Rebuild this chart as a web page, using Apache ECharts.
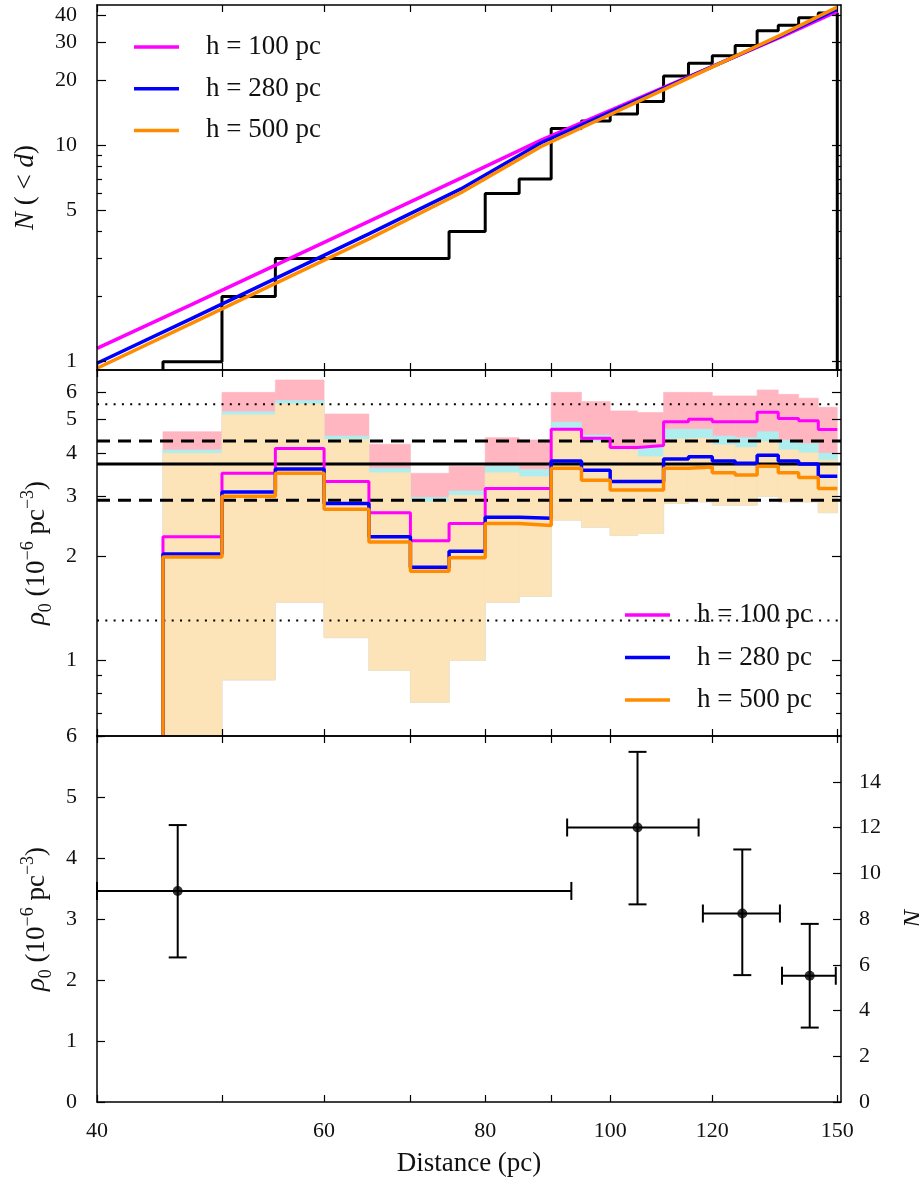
<!DOCTYPE html>
<html><head><meta charset="utf-8">
<script src="https://cdn.jsdelivr.net/npm/echarts@6/dist/echarts.min.js"></script>
<style>html,body{margin:0;padding:0;background:#fff}#c{width:919px;height:1183px}</style>
</head><body><div id="c"></div>
<script>
const FONT = 'Liberation Serif';

// ---------- shared x axis (distance, pc) ----------
const xMin = 40, xMax = 151;
const xTickValues = [40, 50, 60, 70, 80, 90, 100, 120, 150];
const xLabelValues = [40, 60, 80, 100, 120, 150];

// ---------- top panel: cumulative counts N(<d) ----------
const topYMin = 0.915, topYMax = 44.7;
const topMajorTicks = [1, 5, 10, 20, 30, 40];
const topMinorTicks = [2, 3, 4, 6, 7, 8, 9];
const binEdges = [45, 50, 55, 60, 65, 70, 75, 80, 85, 90, 95, 100, 105, 110, 115, 120, 125, 130, 135, 140, 145, 150];
const cumCounts = [1, 2, 3, 3, 3, 3, 4, 6, 7, 12, 13, 14, 16, 21, 24, 26, 29, 34, 36, 39, 41];
const modelDist = [40, 47.3, 65, 76.6, 88.4, 109.6, 135.7, 150];
const modelH100 = [1.153, 1.83, 4.46, 7.07, 10.6, 18.4, 31.8, 41.7];
const modelH280 = [0.983, 1.577, 3.90, 6.3, 10.3, 18.2, 32.2, 42.8];
const modelH500 = [0.932, 1.50, 3.70, 6.05, 9.9, 17.96, 32.5, 43.7];

// ---------- middle panel: rho0 per distance bin ----------
const midYMin = 0.6, midYMax = 6.97;
const midMajorTicks = [1, 2, 3, 4, 5, 6];
const midMinorTicks = [0.6, 0.7, 0.8, 0.9];
const rhoH100 = [2.28, 3.49, 4.12, 3.30, 2.68, 2.22, 2.49, 3.15, 3.15, 4.69, 4.41, 4.15, 4.20, 4.93, 5.01, 4.93, 4.93, 5.25, 5.04, 4.96, 4.68];
const rhoH280 = [2.03, 3.08, 3.59, 2.85, 2.28, 1.86, 2.07, 2.60, 2.58, 3.79, 3.56, 3.30, 3.30, 3.84, 3.90, 3.79, 3.73, 3.94, 3.79, 3.71, 3.42];
const rhoH500 = [1.99, 2.99, 3.49, 2.74, 2.20, 1.81, 1.98, 2.49, 2.46, 3.61, 3.33, 3.12, 3.12, 3.61, 3.64, 3.50, 3.45, 3.66, 3.50, 3.39, 3.15];
const bandH100Upper = [4.61, 6.00, 6.52, 5.19, 4.24, 3.49, 3.66, 4.43, 4.36, 6.00, 5.64, 5.30, 5.24, 6.00, 6.00, 5.86, 5.86, 6.10, 5.92, 5.77, 5.43];
const bandH280Upper = [4.08, 5.27, 5.68, 4.48, 3.61, 2.97, 3.10, 3.66, 3.58, 4.91, 4.51, 4.17, 4.15, 4.69, 4.69, 4.48, 4.43, 4.61, 4.36, 4.26, 3.99];
const bandH500Upper = [3.99, 5.16, 5.55, 4.38, 3.50, 2.88, 3.01, 3.50, 3.41, 4.72, 4.31, 4.10, 3.90, 4.39, 4.41, 4.22, 4.15, 4.31, 4.08, 4.00, 3.81];
const bandLower = [0.6, 0.874, 1.47, 1.16, 0.931, 0.752, 0.995, 1.47, 1.53, 2.55, 2.43, 2.30, 2.33, 2.85, 2.88, 2.82, 2.82, 2.99, 2.88, 2.88, 2.68];
const refLevels = [5.54, 4.33, 3.71, 2.91, 1.30];
const refKinds = ['dotted', 'dashed', 'solid', 'dashed', 'dotted'];

// ---------- bottom panel: rho0 in wide bins ----------
const wideDist = [46.2, 105.0, 126.6, 142.8];
const wideDistLow = [40, 92.6, 118.0, 135.9];
const wideDistHigh = [93.3, 117.1, 135.4, 149.6];
const wideRho = [3.46, 4.50, 3.09, 2.07];
const wideRhoLow = [2.37, 3.24, 2.08, 1.22];
const wideRhoHigh = [4.54, 5.74, 4.14, 2.92];
const rhoAxisMax = 6, nAxisMax = 16;
const nLabelValues = [0, 2, 4, 6, 8, 10, 12, 14];

const names = ['h = 100 pc', 'h = 280 pc', 'h = 500 pc'];
const colors = ['#ff00ff', '#0000ff', '#ff8c00'];
const bandColors = ['#ffb6c1', '#afeeee', '#fde3b8'];

const BLACK = '#000';
const labelStyle = {fontFamily: FONT, fontSize: 22, color: '#111'};
const nameStyle = {
  fontFamily: FONT, fontSize: 27, color: '#111', lineHeight: 36,
  rich: {
    i: {fontFamily: FONT, fontSize: 27, fontStyle: 'italic', lineHeight: 36, color: '#111'},
    sup: {fontFamily: FONT, fontSize: 18, verticalAlign: 'top', lineHeight: 16, color: '#111'},
    sub: {fontFamily: FONT, fontSize: 18, verticalAlign: 'bottom', lineHeight: 16, color: '#111'}
  }
};

const grids = [
  {left: 97, width: 744, top: 5, height: 365, outerBoundsMode: 'none'},
  {left: 97, width: 744, top: 370, height: 366, outerBoundsMode: 'none'},
  {left: 97, width: 744, top: 736, height: 366, outerBoundsMode: 'none'}
];

function xAx(g, pos, withLabels) {
  const a = {
    type: 'log', logBase: 10, gridIndex: g, position: pos, min: xMin, max: xMax, z: 10,
    axisLine: {show: true, onZero: false, lineStyle: {color: BLACK, width: 1.5}},
    axisTick: {show: true, inside: true, length: 7, customValues: xTickValues, lineStyle: {color: BLACK, width: 1.2}},
    axisLabel: Object.assign({show: withLabels, customValues: xLabelValues, margin: 18}, labelStyle),
    splitLine: {show: false}
  };
  if (withLabels) {
    a.name = 'Distance (pc)';
    a.nameLocation = 'middle';
    a.nameGap = 48;
    a.nameTextStyle = {fontFamily: FONT, fontSize: 27, color: '#111'};
  }
  return a;
}

function yAx(o) {
  return Object.assign({
    z: 10, splitLine: {show: false},
    axisLine: {show: false},
    axisLabel: {show: false},
    axisTick: {show: false}
  }, o);
}
function tick(len, vals) {
  return {show: true, inside: true, length: len, customValues: vals, lineStyle: {color: BLACK, width: 1.2}};
}
const frame = {show: true, onZero: false, lineStyle: {color: BLACK, width: 1.5}};

const xAxes = [
  xAx(0, 'bottom', false), xAx(0, 'top', false),
  xAx(1, 'bottom', false), xAx(1, 'top', false),
  xAx(2, 'bottom', true), xAx(2, 'top', false)
];

const yAxes = [
  // top grid
  yAx({type: 'log', gridIndex: 0, position: 'left', min: topYMin, max: topYMax, axisLine: frame,
       axisTick: tick(9, topMajorTicks),
       axisLabel: Object.assign({show: true, customValues: topMajorTicks, margin: 20}, labelStyle),
       name: '{i|N} ( < {i|d})', nameLocation: 'middle', nameRotate: 90, nameGap: 53, nameTextStyle: nameStyle}),
  yAx({type: 'log', gridIndex: 0, position: 'left', min: topYMin, max: topYMax, axisTick: tick(5, topMinorTicks)}),
  yAx({type: 'log', gridIndex: 0, position: 'right', min: topYMin, max: topYMax, axisLine: frame, axisTick: tick(9, topMajorTicks)}),
  yAx({type: 'log', gridIndex: 0, position: 'right', min: topYMin, max: topYMax, axisTick: tick(5, topMinorTicks)}),
  // middle grid
  yAx({type: 'log', gridIndex: 1, position: 'left', min: midYMin, max: midYMax, axisLine: frame,
       axisTick: tick(9, midMajorTicks),
       axisLabel: Object.assign({show: true, customValues: midMajorTicks, margin: 20}, labelStyle),
       name: '{i|ρ}{sub|0} (10{sup|−6} pc{sup|−3})', nameLocation: 'middle', nameRotate: 90, nameGap: 42, nameTextStyle: nameStyle}),
  yAx({type: 'log', gridIndex: 1, position: 'left', min: midYMin, max: midYMax, axisTick: tick(5, midMinorTicks)}),
  yAx({type: 'log', gridIndex: 1, position: 'right', min: midYMin, max: midYMax, axisLine: frame, axisTick: tick(9, midMajorTicks)}),
  yAx({type: 'log', gridIndex: 1, position: 'right', min: midYMin, max: midYMax, axisTick: tick(5, midMinorTicks)}),
  // bottom grid
  yAx({type: 'value', gridIndex: 2, position: 'left', min: 0, max: rhoAxisMax, interval: 1, axisLine: frame,
       axisTick: {show: true, inside: true, length: 8, lineStyle: {color: BLACK, width: 1.2}},
       axisLabel: Object.assign({show: true, margin: 20}, labelStyle),
       name: '{i|ρ}{sub|0} (10{sup|−6} pc{sup|−3})', nameLocation: 'middle', nameRotate: 90, nameGap: 42, nameTextStyle: nameStyle}),
  yAx({type: 'value', gridIndex: 2, position: 'right', min: 0, max: nAxisMax, axisLine: frame,
       axisTick: tick(8, nLabelValues),
       axisLabel: Object.assign({show: true, customValues: nLabelValues, margin: 18}, labelStyle),
       name: '{i|N}', nameLocation: 'middle', nameRotate: 90, nameGap: 56, nameTextStyle: nameStyle})
];

// ---------- series ----------
function stepData(edges, vals, base, closeEnd) {
  const d = [[edges[0], base]];
  for (let i = 0; i < vals.length; i++) d.push([edges[i], vals[i]]);
  d.push([edges[edges.length - 1], vals[vals.length - 1]]);
  if (closeEnd) d.push([edges[edges.length - 1], base]);
  return d;
}
function rectRender(color) {
  return function (params, api) {
    const p0 = api.coord([api.value(0), api.value(3)]);
    const p1 = api.coord([api.value(1), api.value(2)]);
    return {type: 'rect', shape: {x: p0[0], y: p0[1], width: p1[0] - p0[0], height: p1[1] - p0[1]},
            style: {fill: color, stroke: color, lineWidth: 0.6}};
  };
}
function bandSeries(upper, color) {
  return {
    type: 'custom', xAxisIndex: 2, yAxisIndex: 4, silent: true, clip: true, z: 1,
    renderItem: rectRender(color),
    encode: {x: [0, 1], y: [2, 3]},
    data: upper.map((u, i) => [binEdges[i], binEdges[i + 1], bandLower[i], u])
  };
}

const series = [];
// top panel
series.push({type: 'line', xAxisIndex: 0, yAxisIndex: 0, step: 'end', symbol: 'none', silent: true, z: 2,
  lineStyle: {color: BLACK, width: 3}, data: stepData(binEdges, cumCounts, topYMin, true)});
[modelH100, modelH280, modelH500].forEach((vals, k) => {
  series.push({type: 'line', name: names[k], xAxisIndex: 0, yAxisIndex: 0, symbol: 'none', silent: true, z: 3 + k,
    itemStyle: {color: colors[k]}, lineStyle: {color: colors[k], width: 3.5},
    data: modelDist.map((d, i) => [d, vals[i]])});
});
// middle panel bands
series.push(bandSeries(bandH100Upper, bandColors[0]));
series.push(bandSeries(bandH280Upper, bandColors[1]));
series.push(bandSeries(bandH500Upper, bandColors[2]));
// reference levels
refLevels.forEach((v, i) => {
  const kind = refKinds[i];
  const ls = kind === 'dotted' ? {type: [2, 6.3], width: 2} : kind === 'dashed' ? {type: [13, 8], width: 3} : {type: 'solid', width: 3};
  series.push({type: 'line', xAxisIndex: 2, yAxisIndex: 4, symbol: 'none', silent: true, z: 2,
    lineStyle: Object.assign({color: BLACK}, ls), data: [[xMin, v], [xMax, v]]});
});
// middle step lines
[rhoH100, rhoH280, rhoH500].forEach((vals, k) => {
  series.push({type: 'line', name: names[k], xAxisIndex: 2, yAxisIndex: 4, step: 'end', symbol: 'none', silent: true, z: 3 + k,
    itemStyle: {color: colors[k]}, lineStyle: {color: colors[k], width: k === 0 ? 3 : 3.5},
    data: stepData(binEdges, vals, midYMin, false)});
});
// bottom panel error bars
series.push({
  type: 'custom', xAxisIndex: 4, yAxisIndex: 8, silent: true, z: 3,
  encode: {x: [0, 2, 3], y: [1, 4, 5]},
  data: wideDist.map((d, i) => [d, wideRho[i], wideDistLow[i], wideDistHigh[i], wideRhoLow[i], wideRhoHigh[i]]),
  renderItem: function (params, api) {
    const x = api.value(0), y = api.value(1);
    const a = api.coord([api.value(2), y]), b = api.coord([api.value(3), y]);
    const lo = api.coord([x, api.value(4)]), hi = api.coord([x, api.value(5)]);
    const cap = 9, st = {stroke: BLACK, lineWidth: 2};
    const L = (x1, y1, x2, y2) => ({type: 'line', shape: {x1, y1, x2, y2}, style: st});
    return {type: 'group', children: [
      L(a[0], a[1], b[0], b[1]),
      L(a[0], a[1] - cap, a[0], a[1] + cap),
      L(b[0], b[1] - cap, b[0], b[1] + cap),
      L(lo[0], lo[1], hi[0], hi[1]),
      L(lo[0] - cap, lo[1], lo[0] + cap, lo[1]),
      L(hi[0] - cap, hi[1], hi[0] + cap, hi[1])
    ]};
  }
});
series.push({type: 'scatter', xAxisIndex: 4, yAxisIndex: 8, symbol: 'circle', symbolSize: 10, silent: true, z: 4,
  itemStyle: {color: BLACK}, data: wideDist.map((d, i) => [d, wideRho[i]])});

const legendBase = {
  orient: 'vertical', icon: 'rect', itemWidth: 45, itemHeight: 3.5, selectedMode: false,
  textStyle: {fontFamily: FONT, fontSize: 27, color: '#111', lineHeight: 30, padding: [0, 0, 0, 22]},
  data: names
};

const option = {
  animation: false,
  backgroundColor: '#fff',
  textStyle: {fontFamily: FONT},
  grid: grids,
  xAxis: xAxes,
  yAxis: yAxes,
  legend: [
    Object.assign({}, legendBase, {left: 129, top: 27, itemGap: 11.7}),
    Object.assign({}, legendBase, {left: 620, top: 595, itemGap: 12.5})
  ],
  series: series
};

const chart = echarts.init(document.getElementById('c'), null, {renderer: 'canvas'});
chart.setOption(option);
</script>
</body></html>
